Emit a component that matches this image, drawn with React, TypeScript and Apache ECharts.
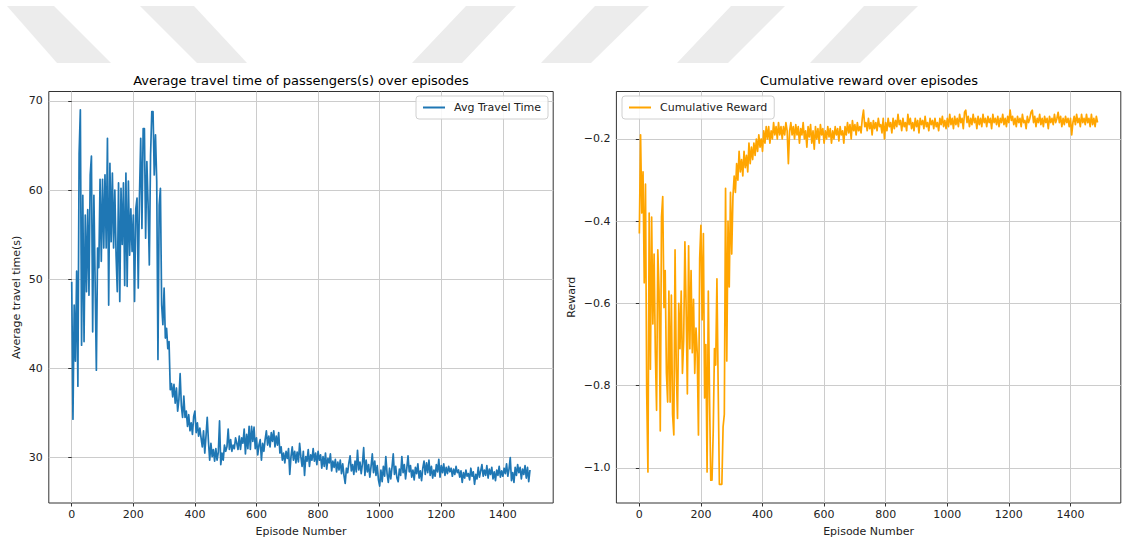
import React, { useEffect, useRef } from "react";
import * as echarts from "echarts";

// Episode spacing between stored points (episodes 0, 4, 8, ... 1488)
const EPISODE_STEP = 4;

// Average travel time of passengers (s)
const TRAVEL_TIME = [
  49.7, 34.3, 47.1, 40.8, 50.9, 38.0, 64.1, 69.0, 42.6, 59.4,
  43.0, 57.2, 48.6, 57.8, 48.2, 61.7, 63.8, 44.1, 59.4, 49.7,
  39.8, 53.5, 51.3, 61.2, 52.0, 61.2, 53.5, 61.7, 53.5, 65.8,
  47.1, 63.0, 54.2, 61.9, 53.5, 60.0, 52.7, 48.6, 60.8, 47.5,
  60.2, 53.9, 60.8, 49.3, 61.9, 49.2, 61.0, 52.7, 57.9, 53.1,
  57.2, 47.5, 57.9, 59.1, 49.0, 59.4, 65.8, 55.7, 66.9, 66.9,
  54.6, 63.2, 58.3, 51.6, 63.9, 68.8, 68.8, 61.7, 66.2, 61.0,
  41.0, 58.3, 60.2, 47.1, 44.9, 49.0, 43.4, 44.5, 42.2, 43.0,
  37.6, 38.3, 36.8, 38.2, 36.1, 37.8, 35.2, 36.5, 39.4, 35.8,
  34.5, 36.9, 34.5, 35.2, 33.5, 34.8, 33.0, 33.9, 32.6, 34.6,
  35.2, 32.8, 33.9, 32.4, 33.3, 32.2, 31.2, 33.0, 30.5, 32.4,
  34.5, 31.8, 29.7, 31.6, 30.1, 30.9, 29.6, 31.0, 29.7, 30.6,
  34.1, 29.2, 30.5, 29.7, 31.4, 30.7, 31.2, 33.2, 30.9, 32.0,
  30.7, 31.4, 31.0, 32.2, 31.6, 30.9, 32.4, 30.9, 32.2, 31.6,
  33.2, 30.4, 32.6, 31.0, 33.5, 30.9, 33.5, 31.8, 33.4, 31.0,
  32.2, 30.3, 31.4, 32.0, 29.7, 31.6, 30.7, 32.0, 33.0, 31.4,
  32.4, 31.2, 32.8, 31.8, 33.0, 31.2, 32.4, 31.4, 32.8, 30.5,
  31.2, 29.7, 30.5, 29.4, 30.7, 29.9, 31.0, 28.1, 30.1, 31.2,
  29.7, 30.7, 29.4, 30.6, 29.5, 31.6, 30.1, 29.0, 30.7, 28.0,
  30.1, 29.6, 30.9, 29.0, 30.3, 29.7, 31.0, 29.6, 30.5, 29.2,
  30.7, 29.7, 30.3, 28.8, 30.1, 29.0, 30.5, 28.7, 29.9, 29.4,
  30.4, 28.5, 29.6, 28.9, 29.8, 28.4, 29.5, 28.6, 29.7, 28.2,
  29.3, 28.0, 27.1, 28.8, 28.3, 29.4, 30.2, 28.5, 29.2, 28.1,
  29.6, 28.4, 30.8, 28.6, 29.5, 28.2, 29.3, 31.1, 28.0, 29.7,
  28.4, 29.2, 27.8, 29.0, 30.4, 28.3, 29.6, 28.0, 29.1, 27.5,
  26.8, 28.6, 27.3, 29.0, 27.9, 30.1, 28.2, 27.2, 28.8, 27.6,
  28.9, 30.4, 28.1, 29.0, 27.7, 27.3, 28.7, 28.0, 30.1, 28.3,
  29.2, 27.6, 28.8, 30.2, 28.4, 29.1, 27.8, 28.6, 27.5, 28.9,
  28.2, 29.3, 27.7, 28.5, 27.4, 28.8, 29.6, 28.1, 29.4, 28.3,
  29.7, 28.0, 29.0, 27.7, 28.6, 27.9, 29.2, 28.4, 29.8, 27.8,
  29.1, 28.3, 29.3, 28.0, 28.9, 28.2, 29.0, 28.4, 28.8, 27.9,
  28.7, 28.1, 29.0, 28.3, 28.6, 27.8, 28.5, 27.2, 28.3, 27.7,
  28.6, 27.9, 28.2, 27.5, 28.8, 27.9, 28.4, 27.0, 28.1, 27.6,
  28.9, 27.8, 28.5, 29.2, 27.9, 28.6, 28.0, 29.1, 27.7, 28.7,
  28.1, 28.9, 27.6, 28.4, 27.4, 28.6, 28.0, 29.0, 27.8, 28.5,
  27.9, 28.8, 28.2, 29.3, 27.9, 28.7, 30.0, 27.4, 28.3, 27.2,
  28.9, 28.0, 29.2, 28.3, 28.9, 27.6, 28.7, 28.1, 29.1, 27.7,
  28.9, 27.3, 28.6,
];

// Cumulative reward
const REWARD = [
  -0.43, -0.19, -0.38, -0.28, -0.55, -0.31, -0.82, -1.01, -0.38, -0.76,
  -0.39, -0.65, -0.48, -0.72, -0.86, -0.47, -0.57, -0.91, -0.39, -0.34,
  -0.61, -0.52, -0.77, -0.84, -0.57, -0.84, -0.58, -0.87, -0.92, -0.47,
  -0.76, -0.88, -0.60, -0.71, -0.57, -0.77, -0.69, -0.45, -0.61, -0.82,
  -0.46, -0.71, -0.52, -0.72, -0.59, -0.77, -0.66, -0.72, -0.92, -0.49,
  -0.41, -0.64, -0.43, -0.83, -0.70, -1.01, -0.57, -0.83, -1.03, -1.03,
  -0.91, -0.71, -0.75, -0.54, -0.80, -1.04, -1.04, -1.04, -0.90, -0.87,
  -0.32, -0.74, -0.40, -0.56, -0.33, -0.48, -0.34, -0.29, -0.33, -0.26,
  -0.30, -0.23, -0.28, -0.25, -0.29, -0.23, -0.27, -0.24, -0.28, -0.21,
  -0.26, -0.22, -0.25, -0.21, -0.24, -0.20, -0.23, -0.19, -0.22, -0.20,
  -0.23, -0.18, -0.21, -0.17, -0.20, -0.17, -0.21, -0.18, -0.20, -0.16,
  -0.19, -0.17, -0.20, -0.16, -0.19, -0.17, -0.20, -0.17, -0.19, -0.16,
  -0.18, -0.26, -0.18, -0.16, -0.19, -0.17, -0.20, -0.165, -0.19, -0.17,
  -0.21, -0.175, -0.19, -0.16, -0.20, -0.18, -0.22, -0.17, -0.195, -0.165,
  -0.21, -0.18, -0.225, -0.17, -0.20, -0.175, -0.21, -0.165, -0.19, -0.175,
  -0.21, -0.18, -0.20, -0.17, -0.195, -0.175, -0.21, -0.18, -0.20, -0.17,
  -0.19, -0.175, -0.205, -0.17, -0.19, -0.18, -0.21, -0.17, -0.19, -0.16,
  -0.185, -0.165, -0.20, -0.155, -0.18, -0.165, -0.19, -0.16, -0.18, -0.17,
  -0.185, -0.15, -0.13, -0.17, -0.16, -0.18, -0.15, -0.175, -0.16, -0.19,
  -0.155, -0.175, -0.16, -0.18, -0.15, -0.17, -0.165, -0.185, -0.15, -0.20,
  -0.16, -0.18, -0.15, -0.17, -0.16, -0.185, -0.15, -0.175, -0.155, -0.17,
  -0.14, -0.165, -0.155, -0.18, -0.15, -0.17, -0.16, -0.18, -0.14, -0.165,
  -0.15, -0.175, -0.16, -0.18, -0.15, -0.17, -0.155, -0.185, -0.15, -0.165,
  -0.155, -0.175, -0.145, -0.17, -0.16, -0.18, -0.15, -0.165, -0.155, -0.175,
  -0.15, -0.17, -0.16, -0.18, -0.15, -0.165, -0.145, -0.17, -0.155, -0.175,
  -0.15, -0.17, -0.14, -0.165, -0.15, -0.175, -0.145, -0.165, -0.15, -0.17,
  -0.14, -0.16, -0.15, -0.175, -0.135, -0.13, -0.16, -0.145, -0.17, -0.15,
  -0.165, -0.14, -0.16, -0.15, -0.175, -0.145, -0.165, -0.15, -0.17, -0.14,
  -0.16, -0.15, -0.17, -0.145, -0.16, -0.15, -0.175, -0.14, -0.16, -0.15,
  -0.165, -0.145, -0.17, -0.15, -0.16, -0.14, -0.165, -0.15, -0.17, -0.145,
  -0.16, -0.13, -0.155, -0.145, -0.165, -0.15, -0.17, -0.145, -0.16, -0.15,
  -0.17, -0.14, -0.16, -0.155, -0.175, -0.145, -0.16, -0.15, -0.135, -0.13,
  -0.16, -0.145, -0.17, -0.15, -0.16, -0.14, -0.165, -0.15, -0.17, -0.145,
  -0.16, -0.15, -0.175, -0.145, -0.16, -0.15, -0.165, -0.14, -0.16, -0.15,
  -0.135, -0.16, -0.145, -0.17, -0.15, -0.165, -0.145, -0.16, -0.15, -0.17,
  -0.15, -0.19, -0.16, -0.145, -0.165, -0.14, -0.16, -0.15, -0.17, -0.14,
  -0.16, -0.15, -0.165, -0.14, -0.16, -0.15, -0.17, -0.14, -0.165, -0.15,
  -0.17, -0.145, -0.16,
];

const X_TICKS = [0, 200, 400, 600, 800, 1000, 1200, 1400];
const TRAVEL_TICKS = [30, 40, 50, 60, 70];
const REWARD_TICKS = [-1.0, -0.8, -0.6, -0.4, -0.2];

const FONT = "DejaVu Sans";
const TEXT_COLOR = "#222";
const SPINE = "#333";
const GRID_LINE = "#cccccc";

function xAxisFor(gridIndex: number) {
  return {
    gridIndex,
    type: "value",
    min: -74.45,
    max: 1563.45,
    name: "Episode Number",
    nameLocation: "middle",
    nameGap: 23,
    nameTextStyle: { fontFamily: FONT, fontSize: 11, color: TEXT_COLOR },
    axisLine: { show: false },
    axisTick: {
      show: true,
      length: 3.5,
      customValues: X_TICKS,
      lineStyle: { color: SPINE, width: 1 },
    },
    axisLabel: {
      customValues: X_TICKS,
      margin: 6,
      fontFamily: FONT,
      fontSize: 11,
      color: TEXT_COLOR,
      formatter: (v: number) => String(Math.round(v)),
    },
    splitLine: { show: true, lineStyle: { color: GRID_LINE, width: 1 } },
  };
}

function yAxisFor(
  gridIndex: number,
  name: string,
  min: number,
  max: number,
  ticks: number[],
  nameGap: number,
  formatter: (v: number) => string
) {
  return {
    gridIndex,
    type: "value",
    min,
    max,
    name,
    nameLocation: "middle",
    nameGap,
    nameRotate: 90,
    nameTextStyle: { fontFamily: FONT, fontSize: 11, color: TEXT_COLOR },
    axisLine: { show: false },
    axisTick: {
      show: true,
      length: 3.5,
      customValues: ticks,
      lineStyle: { color: SPINE, width: 1 },
    },
    axisLabel: {
      customValues: ticks,
      margin: 6,
      fontFamily: FONT,
      fontSize: 11,
      color: TEXT_COLOR,
      formatter,
    },
    splitLine: { show: true, lineStyle: { color: GRID_LINE, width: 1 } },
  };
}

const legendBase = {
  orient: "horizontal",
  icon: "rect",
  itemWidth: 22,
  itemHeight: 2,
  padding: [6, 7, 6, 7],
  borderColor: "#d0d0d0",
  borderWidth: 1,
  borderRadius: 3,
  backgroundColor: "rgba(255,255,255,0.85)",
  textStyle: {
    fontFamily: FONT,
    fontSize: 11,
    color: TEXT_COLOR,
    padding: [0, 0, 0, 4],
  },
};

const WATERMARK = [
  [[7, 6], [54, 6], [111, 63], [57, 63]],
  [[140, 6], [194, 6], [247, 63], [197, 63]],
  [[466, 6], [516, 6], [462, 63], [412, 63]],
  [[595, 6], [649, 6], [591, 63], [541, 63]],
  [[731, 6], [785, 6], [728, 63], [677, 63]],
  [[864, 6], [918, 6], [860, 63], [810, 63]],
];

export default function App() {
  const ref = useRef<HTMLDivElement>(null);

  useEffect(() => {
    if (!ref.current) return;
    const chart = echarts.init(ref.current, null, { renderer: "svg" });

    const travelData = TRAVEL_TIME.map((v, i) => [i * EPISODE_STEP, v]);
    const rewardData = REWARD.map((v, i) => [i * EPISODE_STEP, v]);

    const option = {
      animation: false,
      backgroundColor: "#ffffff",
      grid: [
        {
          left: 48.8,
          top: 91.5,
          width: 504.4,
          height: 411.5,
          show: true,
          borderColor: SPINE,
          borderWidth: 1,
          backgroundColor: "rgba(0,0,0,0)",
          containLabel: false,
          outerBoundsMode: "none",
        },
        {
          left: 616.4,
          top: 91.5,
          width: 504.4,
          height: 411.5,
          show: true,
          borderColor: SPINE,
          borderWidth: 1,
          backgroundColor: "rgba(0,0,0,0)",
          containLabel: false,
          outerBoundsMode: "none",
        },
      ],
      xAxis: [xAxisFor(0), xAxisFor(1)],
      yAxis: [
        yAxisFor(0, "Average travel time(s)", 24.9, 71.05, TRAVEL_TICKS, 27, (v: number) =>
          String(Math.round(v))
        ),
        yAxisFor(1, "Reward", -1.0855, -0.0845, REWARD_TICKS, 39, (v: number) =>
          (v < 0 ? "\u2212" : "") + Math.abs(v).toFixed(1)
        ),
      ],
      legend: [
        { ...legendBase, data: ["Avg Travel Time"], right: 1124 - 548, top: 96 },
        { ...legendBase, data: ["Cumulative Reward"], left: 622, top: 96 },
      ],
      series: [
        {
          type: "line",
          name: "Avg Travel Time",
          xAxisIndex: 0,
          yAxisIndex: 0,
          data: travelData,
          symbol: "none",
          showSymbol: false,
          lineStyle: { color: "#1f77b4", width: 1.7, join: "round" },
          itemStyle: { color: "#1f77b4" },
        },
        {
          type: "line",
          name: "Cumulative Reward",
          xAxisIndex: 1,
          yAxisIndex: 1,
          data: rewardData,
          symbol: "none",
          showSymbol: false,
          lineStyle: { color: "#ffa500", width: 1.7, join: "round" },
          itemStyle: { color: "#ffa500" },
        },
      ],
      graphic: [
        ...WATERMARK.map((pts) => ({
          type: "polygon",
          silent: true,
          z: -10,
          shape: { points: pts },
          style: { fill: "#ececec" },
        })),
        {
          type: "text",
          x: 301,
          y: 80,
          style: {
            text: "Average travel time of passengers(s) over episodes",
            fontFamily: FONT,
            fontSize: 13,
            fill: "#000",
            textAlign: "center",
            textVerticalAlign: "middle",
          },
        },
        {
          type: "text",
          x: 869,
          y: 80,
          style: {
            text: "Cumulative reward over episodes",
            fontFamily: FONT,
            fontSize: 13,
            fill: "#000",
            textAlign: "center",
            textVerticalAlign: "middle",
          },
        },
      ],
    };

    chart.setOption(option as any);
    return () => chart.dispose();
  }, []);

  return (
    <div
      ref={ref}
      style={{
        position: "fixed",
        left: 0,
        top: 0,
        width: 1124,
        height: 544,
        background: "#fff",
      }}
    />
  );
}
